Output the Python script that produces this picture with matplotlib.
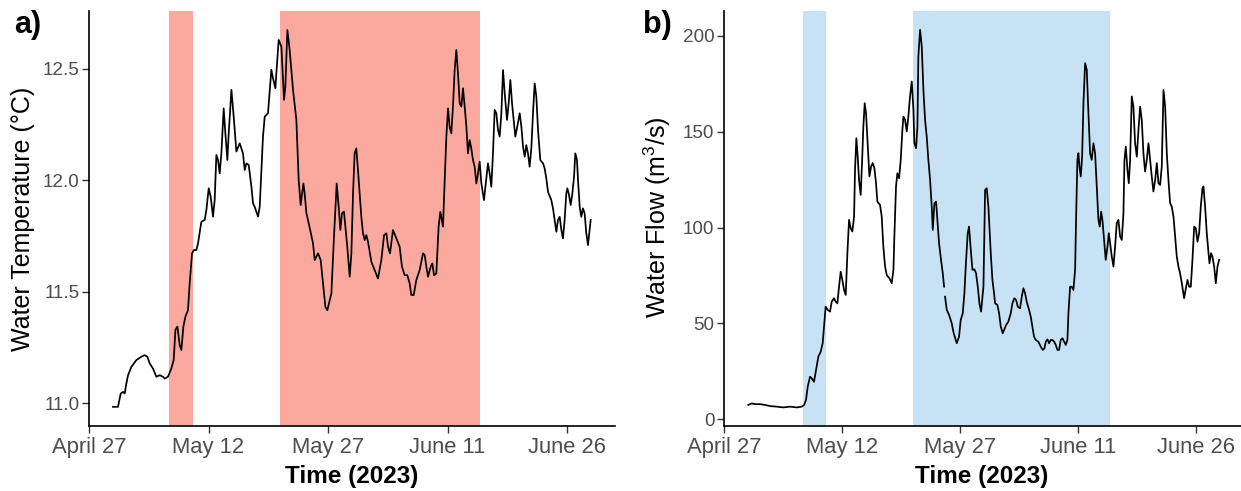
import numpy as np
import pandas as pd
import matplotlib
matplotlib.use('Agg')
import matplotlib.pyplot as plt
import matplotlib.dates as mdates

plt.rcParams['font.family'] = ['Liberation Sans', 'DejaVu Sans']
plt.rcParams['mathtext.fontset'] = 'custom'
plt.rcParams['mathtext.rm'] = 'Liberation Sans'

START = pd.Timestamp('2023-04-27')

# water temperature (deg C), time as days after April 27
temp_day = [3.01, 3.64, 3.98, 4.27, 4.48, 4.69, 4.90, 5.32, 5.95, 6.57, 6.99, 7.32, 7.62, 8.03, 8.45, 8.87,
            9.28, 9.50, 9.91, 10.33, 10.63, 10.84, 11.09, 11.38, 11.59, 11.84, 12.09, 12.42, 12.63, 12.93,
            13.17, 13.47, 13.68, 14.10, 14.52, 14.73, 15.02, 15.27, 15.56, 15.77, 15.98, 16.19, 16.40, 16.61,
            16.90, 17.11, 17.36, 17.53, 17.87, 18.19, 18.49, 18.91, 19.32, 19.54, 19.75, 20.04, 20.38, 20.58,
            20.79, 21.21, 21.42, 21.83, 22.05, 22.46, 22.88, 23.09, 23.39, 23.51, 23.80, 24.14, 24.47, 24.64,
            24.89, 25.18, 25.60, 26.02, 26.31, 26.56, 26.90, 27.06, 27.28, 27.57, 28.11, 28.32, 28.74, 29.07,
            29.36, 29.66, 29.91, 30.41, 30.74, 31.08, 31.33, 31.54, 31.74, 31.99,
            32.41, 32.71, 32.92, 33.13, 33.33, 33.54, 33.75, 33.96, 34.17, 34.38, 34.59, 34.80, 35.01, 35.43,
            35.84, 36.26, 36.68, 37.02, 37.31, 37.52, 37.77, 38.14, 38.56, 38.98, 39.27, 39.61, 39.94, 40.24,
            40.44, 40.74, 41.07, 41.49, 41.91, 42.12, 42.33, 42.54, 42.87, 43.08, 43.29, 43.58, 43.87, 44.08,
            44.42, 44.63, 44.84, 45.05, 45.25, 45.46, 45.67, 45.88, 46.09, 46.30, 46.51, 46.72, 46.93, 47.14,
            47.35, 47.55, 47.76, 47.97, 48.18, 48.39, 48.60, 48.81, 49.02, 49.23, 49.56, 49.86, 50.06, 50.27,
            50.48, 50.69, 50.90, 51.11, 51.32, 51.53, 51.74, 51.95, 52.16, 52.45, 52.66, 52.87, 53.08, 53.29,
            53.49, 53.74, 54.04, 54.25, 54.46, 54.67, 54.87, 55.08, 55.29, 55.50, 55.71, 55.92, 56.13, 56.34,
            56.63, 56.97, 57.17, 57.38, 57.59, 58.01, 58.22, 58.43, 58.64, 58.85, 59.06, 59.27, 59.47, 59.68,
            59.89, 60.02, 60.23, 60.44, 60.65, 60.86, 61.02, 61.23, 61.36, 61.57, 61.77, 61.98, 62.19, 62.40,
            62.61, 62.82, 62.95]
temp_val = [10.983, 10.983, 11.043, 11.05, 11.043, 11.088, 11.125, 11.163, 11.193, 11.208, 11.215, 11.208,
            11.178, 11.155, 11.118, 11.125, 11.118, 11.11, 11.118, 11.155, 11.193, 11.328, 11.343, 11.26,
            11.238, 11.343, 11.387, 11.417, 11.537, 11.672, 11.687, 11.687, 11.717, 11.814, 11.822, 11.867,
            11.964, 11.926, 11.837, 11.911, 12.114, 12.091, 12.031, 12.121, 12.323, 12.211, 12.091, 12.211,
            12.406, 12.271, 12.129, 12.166, 12.121, 12.046, 12.076, 12.069, 11.971, 11.897, 11.881, 11.837,
            11.881, 12.196, 12.286, 12.301, 12.496, 12.458, 12.413, 12.481, 12.630, 12.600, 12.361, 12.421,
            12.675, 12.585, 12.406, 12.271, 12.001, 11.889, 11.986, 11.941, 11.852, 11.807, 11.717, 11.642,
            11.672, 11.642, 11.537, 11.432, 11.417, 11.492, 11.747, 11.986, 11.881, 11.777, 11.852, 11.859,
            11.702, 11.567, 11.672, 11.941, 12.121, 12.143, 12.046, 11.941, 11.836, 11.762, 11.732, 11.754,
            11.724, 11.634, 11.597, 11.559, 11.642, 11.754, 11.762, 11.702, 11.672, 11.777, 11.739, 11.702,
            11.612, 11.574, 11.574, 11.537, 11.485, 11.485, 11.552, 11.597, 11.672, 11.664, 11.612, 11.567,
            11.612, 11.627, 11.574, 11.582, 11.792, 11.859, 11.792, 12.001, 12.196, 12.323, 12.241, 12.211,
            12.331, 12.495, 12.585, 12.480, 12.346, 12.331, 12.413, 12.331, 12.241, 12.121, 12.181, 12.143,
            12.091, 12.061, 11.986, 12.031, 12.084, 11.986, 11.911, 12.009, 12.076, 12.031, 11.971, 12.121,
            12.316, 12.301, 12.226, 12.196, 12.301, 12.495, 12.391, 12.271, 12.346, 12.450, 12.346, 12.271,
            12.196, 12.241, 12.301, 12.241, 12.151, 12.106, 12.158, 12.121, 12.061, 12.143, 12.301, 12.435,
            12.376, 12.226, 12.091, 12.076, 12.054, 12.009, 11.949, 11.911, 11.874, 11.822, 11.769, 11.822,
            11.836, 11.777, 11.739, 11.822, 11.941, 11.964, 11.934, 11.889, 11.941, 12.016, 12.121, 12.091,
            12.001, 11.881, 11.836, 11.874, 11.851, 11.762, 11.709, 11.777, 11.822]

# water flow (m3/s); nan marks a short gap in the record
flow_day = [3.09, 3.52, 3.94, 4.58, 5.21, 5.85, 6.69, 7.54, 8.39, 9.24, 9.87, 10.17, 10.42, 10.64, 10.93,
            11.14, 11.44, 11.70, 11.99, 12.29, 12.54, 12.71, 12.92, 13.18, 13.47, 13.69, 13.98, 14.19, 14.41,
            14.62, 14.83, 15.04, 15.26, 15.47, 15.68, 15.89, 16.10, 16.31, 16.53, 16.65, 16.82, 16.99, 17.16,
            17.37, 17.54, 17.71, 17.88, 18.05, 18.26, 18.48, 18.69, 18.90, 19.11, 19.32, 19.49, 19.83, 20.04,
            20.25, 20.47, 20.68, 21.02, 21.31, 21.53, 21.65, 21.86, 22.03, 22.25, 22.46, 22.67, 22.80, 23.01,
            23.22, 23.43, 23.64, 23.86, 24.07, 24.19, 24.41, 24.58, 24.70, 24.92, 25.13, 25.34, 25.55, 25.76,
            25.97, 26.19, 26.40, 26.53, 26.74, 26.95, 27.12, 27.33, 27.58, 27.80, 27.97, 28.03, 28.09, 28.31,
            28.60, 28.94, 29.19, 29.58, 29.87, 30.08, 30.34, 30.55, 30.72, 30.97, 31.14, 31.36, 31.57, 31.82,
            32.03, 32.25, 32.46, 32.67, 32.97, 33.18, 33.39, 33.60, 33.81,
            33.90, 34.11, 34.32, 34.45, 34.74, 34.96, 35.17, 35.42, 35.59, 35.85, 36.14, 36.44, 36.65, 36.90,
            37.12, 37.33, 37.62, 37.84, 38.05, 38.26, 38.47, 38.77, 38.98, 39.19, 39.40, 39.62, 39.95, 40.25,
            40.51, 40.72, 40.89, 41.10, 41.31, 41.52, 41.73, 41.95, 42.16, 42.37, 42.58, 42.79, 43.01, 43.22,
            43.43, 43.64, 43.77, 43.98, 44.19, 44.40, 44.62, 44.74, 44.91, 45.04, 45.17, 45.34, 45.51, 45.68,
            45.89, 46.10, 46.31, 46.52, 46.73, 46.95, 47.16, 47.37, 47.58, 47.75, 47.92, 48.09, 48.30, 48.51,
            48.73, 48.90, 49.07, 49.28, 49.49, 49.70, 49.91, 50.12, 50.34, 50.55, 50.76, 50.89, 51.06, 51.27,
            51.44, 51.61, 51.82, 52.03, 52.24, 52.46, 52.67, 52.88, 53.09, 53.30, 53.51, 53.73, 53.94, 54.15,
            54.36, 54.57, 54.79, 55.00, 55.21, 55.42, 55.63, 55.85, 56.06, 56.27, 56.48, 56.69, 56.90, 57.12,
            57.33, 57.54, 57.75, 57.96, 58.18, 58.47, 58.73, 58.90, 59.11, 59.32, 59.53, 59.75, 59.96, 60.17,
            60.38, 60.59, 60.80, 60.93, 61.14, 61.35, 61.57, 61.69, 61.90, 62.07, 62.29, 62.50, 62.71, 62.92]
flow_val = [7.4, 8.2, 7.8, 7.8, 7.4, 6.8, 6.5, 6.1, 6.5, 6.1, 6.5, 7.3, 10.0, 16.9, 22.1, 21.3, 19.5, 25.6,
            32.6, 35.2, 39.6, 48.3, 58.7, 57.0, 56.1, 61.3, 63.1, 61.3, 60.4, 69.2, 77.0, 72.6, 67.4, 64.8,
            86.6, 104.0, 99.6, 97.9, 105.7, 130.1, 146.6, 137.0, 124.8, 117.0, 133.6, 152.7, 164.9, 159.7,
            144.0, 126.6, 131.8, 133.6, 131.0, 123.1, 113.5, 111.8, 105.7, 90.0, 79.6, 75.2, 73.5, 70.9, 77.9,
            95.3, 121.4, 128.3, 125.7, 135.3, 151.0, 157.9, 156.2, 150.1, 157.9, 168.4, 176.2, 161.4, 144.0,
            141.4, 152.7, 189.3, 203.2, 194.5, 171.8, 156.2, 147.5, 135.3, 124.8, 110.9, 98.7, 112.7, 113.5,
            104.0, 91.8, 83.1, 76.1, 69.1, np.nan, 63.9, 57.0, 54.4, 50.0, 44.8, 39.6, 43.0, 51.7, 55.2, 65.7,
            79.6, 97.0, 100.5, 88.3, 77.9, 78.2, 76.1, 69.1, 60.4, 56.1, 69.1, 119.6, 120.5, 110.9, 93.5,
            86.6, 72.6, 65.7, 60.4, 59.6, 55.2, 48.3, 44.8, 46.5, 49.1, 50.9, 55.2, 60.4, 63.1, 62.2, 58.7,
            57.8, 63.9, 68.3, 65.7, 61.3, 57.0, 53.5, 48.3, 43.0, 41.3, 40.4, 37.8, 36.1, 36.9, 40.4, 41.6,
            39.6, 41.3, 41.3, 40.4, 38.7, 36.1, 36.1, 41.3, 42.2, 40.4, 38.7, 41.3, 55.2, 69.1, 69.1, 67.4,
            77.9, 104.0, 135.3, 138.8, 131.8, 126.6, 137.0, 164.9, 185.8, 182.3, 159.7, 138.8, 135.3, 144.0,
            138.8, 121.4, 104.0, 100.5, 108.3, 104.0, 93.5, 83.1, 90.0, 97.0, 91.8, 84.8, 79.6, 90.0, 102.2,
            104.0, 95.3, 93.5, 107.4, 135.3, 142.3, 130.1, 123.1, 135.3, 168.4, 163.1, 144.0, 137.0, 151.0,
            163.1, 156.2, 138.8, 129.2, 135.3, 144.0, 135.3, 126.6, 118.8, 124.8, 133.6, 123.1, 122.2, 131.8,
            171.8, 163.1, 138.8, 124.8, 112.7, 110.9, 105.7, 95.3, 84.8, 79.6, 76.1, 70.9, 63.1, 69.1, 72.6,
            69.1, 69.1, 83.1, 100.5, 99.6, 92.6, 97.0, 110.9, 120.5, 121.4, 110.9, 97.0, 86.6, 81.3, 86.6,
            84.8, 79.6, 70.9, 79.6, 83.1]

# highlighted periods (start, end)
periods = [('2023-05-07', '2023-05-10'), ('2023-05-21', '2023-06-15')]
tick_dates = ['2023-04-27', '2023-05-12', '2023-05-27', '2023-06-11', '2023-06-26']


def to_dates(days):
    return START + pd.to_timedelta(np.array(days), unit='D')


def style_axis(ax, span_days):
    for s in ('top', 'right'):
        ax.spines[s].set_visible(False)
    for s in ('left', 'bottom'):
        ax.spines[s].set_linewidth(1.2)
    ax.tick_params(axis='both', length=5, width=1.0, colors='#333333', labelcolor='#4D4D4D')
    ax.tick_params(axis='x', pad=3, labelsize=15.8)
    ax.tick_params(axis='y', pad=2, labelsize=13.6)
    ax.set_xticks(pd.to_datetime(tick_dates))
    ax.xaxis.set_major_formatter(mdates.DateFormatter('%B %d'))
    ax.set_xlim(START, START + pd.Timedelta(days=span_days))


W, H = 1241, 491
fig = plt.figure(figsize=(W / 100, H / 100), dpi=100)

ax1 = fig.add_axes([89 / W, 1 - 426 / H, 526 / W, 415 / H])
ax2 = fig.add_axes([724 / W, 1 - 426 / H, 517 / W, 415 / H])

for ax, col in ((ax1, '#FBA89E'), (ax2, '#C8E2F5')):
    for a, b in periods:
        ax.axvspan(pd.Timestamp(a), pd.Timestamp(b), color=col, lw=0, zorder=0)

ax1.plot(to_dates(temp_day), temp_val, color='black', lw=1.25)
ax2.plot(to_dates(flow_day), flow_val, color='black', lw=1.25)

style_axis(ax1, 66.0)
style_axis(ax2, 65.7)
ax1.set_ylim(10.897, 12.76)
ax1.set_yticks([11.0, 11.5, 12.0, 12.5])
ax1.set_yticklabels(['11.0', '11.5', '12.0', '12.5'])
ax2.set_ylim(-3.6, 213)
ax2.set_yticks([0, 50, 100, 150, 200])

fig.text(23 / W, 1 - 219 / H, 'Water Temperature (°C)', rotation=90,
         ha='center', va='center', fontsize=18)
fig.text(657 / W, 1 - 217 / H, 'Water Flow (m$^3$/s)', rotation=90,
         ha='center', va='center', fontsize=18)
fig.text(352 / W, 1 - 483 / H, 'Time (2023)', ha='center', va='baseline',
         fontsize=17.5, fontweight='bold')
fig.text(982 / W, 1 - 483 / H, 'Time (2023)', ha='center', va='baseline',
         fontsize=17.5, fontweight='bold')
fig.text(14 / W, 1 - 33 / H, 'a)', ha='left', va='baseline', fontsize=22, fontweight='bold')
fig.text(643 / W, 1 - 33 / H, 'b)', ha='left', va='baseline', fontsize=22, fontweight='bold')

fig.savefig('out.png', dpi=100)
